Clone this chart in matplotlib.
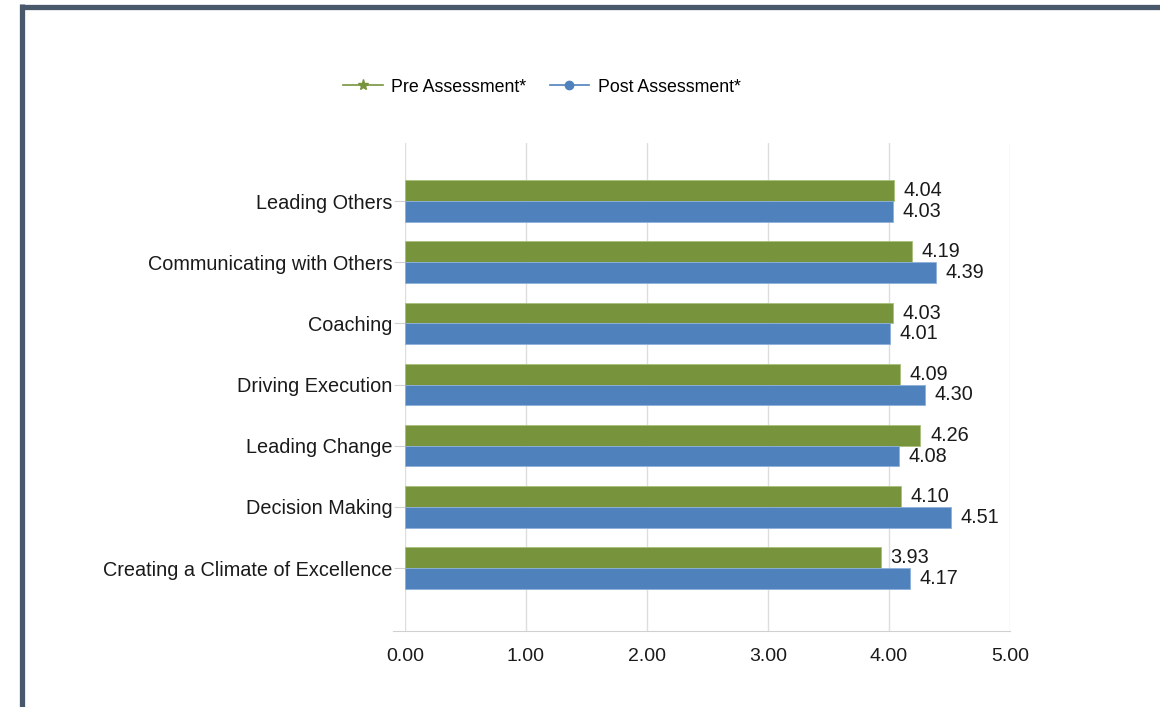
import numpy as np
import matplotlib.pyplot as plt
from matplotlib.lines import Line2D

categories = ["Leading Others", "Communicating with Others", "Coaching",
              "Driving Execution", "Leading Change", "Decision Making",
              "Creating a Climate of Excellence"]
pre = [4.04, 4.19, 4.03, 4.09, 4.26, 4.10, 3.93]
post = [4.03, 4.39, 4.01, 4.30, 4.08, 4.51, 4.17]
x_ticks = [0, 1, 2, 3, 4, 5]

green = "#77933C"
blue = "#4F81BD"
txt = "#1a1a1a"

plt.rcParams["font.family"] = ["Liberation Sans", "DejaVu Sans"]

fig = plt.figure(figsize=(11.6, 7.07), dpi=100)
ax = fig.add_axes([405 / 1160, 1 - 631 / 707, 605 / 1160, 488 / 707])

y = np.arange(len(categories))
h = 0.34
ax.barh(y - h / 2, pre, height=h, color=green, edgecolor="#a9c07a", linewidth=0.6, zorder=3)
ax.barh(y + h / 2, post, height=h, color=blue, edgecolor="#8eb0da", linewidth=0.6, zorder=3)

for yi, v in zip(y, pre):
    ax.text(v + 0.08, yi - h / 2, f"{v:.2f}", va="center", ha="left", fontsize=14.3, color=txt)
for yi, v in zip(y, post):
    ax.text(v + 0.08, yi + h / 2, f"{v:.2f}", va="center", ha="left", fontsize=14.3, color=txt)

ax.set_xlim(0, 5)
ax.set_ylim(6 + 1.03, -0.95)
ax.set_xticks(x_ticks)
ax.set_xticklabels([f"{t:.2f}" for t in x_ticks], fontsize=14, color=txt)
ax.set_yticks(y)
ax.set_yticklabels(categories, fontsize=14.3, color=txt)
ax.grid(axis="x", color="#dddddd", linewidth=1, zorder=0)
for s in ["top", "right", "left"]:
    ax.spines[s].set_visible(False)
ax.spines["bottom"].set_color("#d0d0d0")
ax.spines["bottom"].set_bounds(-0.1, 5)
ax.spines["bottom"].set_clip_on(False)
ax.tick_params(axis="x", length=0, pad=12)
ax.tick_params(axis="y", length=8, color="#d0d0d0", pad=1)

handles = [
    Line2D([], [], color=green, marker="*", markersize=8, linewidth=1.2),
    Line2D([], [], color=blue, marker="o", markersize=6, linewidth=1.2),
]
fig.legend(handles, ["Pre Assessment*", "Post Assessment*"], loc="center",
           bbox_to_anchor=(542 / 1160, 1 - 87 / 707), ncol=2, frameon=False,
           fontsize=12.8, handlelength=2.2, columnspacing=1.3, handletextpad=0.5)

# frame of the surrounding panel
fig.add_artist(Line2D([20 / 1160, 1], [1 - 6.5 / 707, 1 - 6.5 / 707],
                      transform=fig.transFigure, color="#4a586b", linewidth=3.8,
                      solid_capstyle="butt"))
fig.add_artist(Line2D([22 / 1160, 22 / 1160], [0, 1 - 4 / 707],
                      transform=fig.transFigure, color="#4a586b", linewidth=3.8,
                      solid_capstyle="butt"))

fig.savefig("out.png", dpi=100, facecolor="white")
